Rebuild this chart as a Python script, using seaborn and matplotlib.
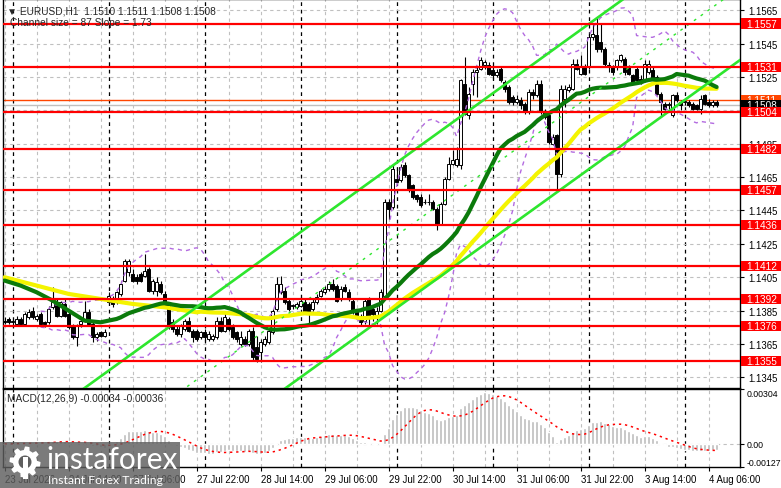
import numpy as np
import pandas as pd
import seaborn as sns
import matplotlib.pyplot as plt
from matplotlib import transforms
from matplotlib.patches import Rectangle, Circle, Polygon

sns.set_style("white")
plt.rcParams['font.family'] = ['Liberation Sans', 'DejaVu Sans']

# EURUSD H1 candles (bar 0 = 23 Jul 22:00)
opens = [1.1379, 1.1380, 1.1378, 1.1377, 1.1380, 1.1377, 1.1381, 1.1385, 1.1380, 1.1383,
         1.1378, 1.1378, 1.1387, 1.1390, 1.1382, 1.1389, 1.1383, 1.1376, 1.1369, 1.1377,
         1.1379, 1.1384, 1.1377, 1.1369, 1.1372, 1.1370, 1.1390, 1.1392, 1.1390, 1.1395,
         1.1403, 1.1408, 1.1407, 1.1405, 1.1407, 1.1406, 1.1410, 1.1397, 1.1397, 1.1401,
         1.1395, 1.1389, 1.1378, 1.1374, 1.1371, 1.1374, 1.1379, 1.1373, 1.1373, 1.1369,
         1.1372, 1.1368, 1.1368, 1.1369, 1.1379, 1.1373, 1.1380, 1.1375, 1.1372, 1.1365,
         1.1368, 1.1365, 1.1373, 1.1363, 1.1360, 1.1365, 1.1366, 1.1372, 1.1386, 1.1396,
         1.1397, 1.1391, 1.1388, 1.1387, 1.1388, 1.1390, 1.1389, 1.1386, 1.1390, 1.1394,
         1.1396, 1.1398, 1.1401, 1.1400, 1.1392, 1.1399, 1.1396, 1.1391, 1.1385, 1.1382,
         1.1379, 1.1392, 1.1386, 1.1382, 1.1385, 1.1394, 1.1450, 1.1447, 1.1464, 1.1463,
         1.1472, 1.1466, 1.1460, 1.1454, 1.1453, 1.1450, 1.1450, 1.1450, 1.1446, 1.1437,
         1.1449, 1.1464, 1.1473, 1.1472, 1.1472, 1.1521, 1.1502, 1.1521, 1.1528, 1.1530,
         1.1532, 1.1532, 1.1529, 1.1526, 1.1530, 1.1522, 1.1519, 1.1513, 1.1510, 1.1511,
         1.1509, 1.1504, 1.1516, 1.1514, 1.1521, 1.1504, 1.1502, 1.1485, 1.1490, 1.1467,
         1.1512, 1.1517, 1.1518, 1.1533, 1.1527, 1.1531, 1.1531, 1.1549, 1.1550, 1.1546,
         1.1542, 1.1532, 1.1531, 1.1531, 1.1535, 1.1536, 1.1531, 1.1526, 1.1530, 1.1524,
         1.1523, 1.1528, 1.1529, 1.1525, 1.1515, 1.1509, 1.1508, 1.1502, 1.1514, 1.1510,
         1.1510, 1.1510, 1.1509, 1.1508, 1.1506, 1.1514, 1.1510, 1.1508, 1.1510]
highs = [1.1381, 1.1381, 1.1380, 1.1382, 1.1381, 1.1384, 1.1386, 1.1387, 1.1383, 1.1384,
         1.1379, 1.1388, 1.1399, 1.1392, 1.1391, 1.1392, 1.1385, 1.1377, 1.1377, 1.1380,
         1.1391, 1.1386, 1.1378, 1.1372, 1.1373, 1.1374, 1.1396, 1.1394, 1.1397, 1.1403,
         1.1416, 1.1416, 1.1410, 1.1407, 1.1408, 1.1419, 1.1411, 1.1404, 1.1405, 1.1403,
         1.1397, 1.1390, 1.1380, 1.1376, 1.1377, 1.1380, 1.1381, 1.1374, 1.1374, 1.1373,
         1.1374, 1.1373, 1.1371, 1.1381, 1.1381, 1.1384, 1.1381, 1.1377, 1.1373, 1.1373,
         1.1370, 1.1374, 1.1375, 1.1370, 1.1368, 1.1370, 1.1374, 1.1386, 1.1405, 1.1406,
         1.1399, 1.1392, 1.1389, 1.1390, 1.1393, 1.1392, 1.1390, 1.1392, 1.1395, 1.1398,
         1.1400, 1.1403, 1.1404, 1.1401, 1.1400, 1.1401, 1.1398, 1.1392, 1.1386, 1.1383,
         1.1392, 1.1393, 1.1388, 1.1387, 1.1398, 1.1452, 1.1452, 1.1472, 1.1471, 1.1473,
         1.1474, 1.1467, 1.1461, 1.1455, 1.1455, 1.1452, 1.1455, 1.1451, 1.1447, 1.1450,
         1.1465, 1.1477, 1.1481, 1.1483, 1.1524, 1.1537, 1.1519, 1.1530, 1.1531, 1.1537,
         1.1535, 1.1534, 1.1531, 1.1530, 1.1531, 1.1523, 1.1520, 1.1514, 1.1514, 1.1513,
         1.1510, 1.1518, 1.1518, 1.1523, 1.1523, 1.1506, 1.1503, 1.1491, 1.1491, 1.1520,
         1.1520, 1.1521, 1.1536, 1.1536, 1.1538, 1.1533, 1.1551, 1.1557, 1.1560, 1.1557,
         1.1543, 1.1534, 1.1532, 1.1536, 1.1539, 1.1537, 1.1532, 1.1527, 1.1531, 1.1526,
         1.1535, 1.1535, 1.1531, 1.1526, 1.1516, 1.1510, 1.1510, 1.1515, 1.1516, 1.1511,
         1.1512, 1.1511, 1.1510, 1.1509, 1.1514, 1.1515, 1.1512, 1.1511, 1.1511]
lows = [1.1377, 1.1377, 1.1376, 1.1376, 1.1376, 1.1376, 1.1380, 1.1380, 1.1379, 1.1376,
        1.1375, 1.1377, 1.1386, 1.1381, 1.1381, 1.1381, 1.1374, 1.1368, 1.1364, 1.1375,
        1.1378, 1.1376, 1.1366, 1.1367, 1.1369, 1.1369, 1.1389, 1.1387, 1.1389, 1.1394,
        1.1402, 1.1406, 1.1402, 1.1401, 1.1402, 1.1405, 1.1396, 1.1395, 1.1394, 1.1395,
        1.1387, 1.1374, 1.1372, 1.1370, 1.1369, 1.1373, 1.1372, 1.1366, 1.1367, 1.1368,
        1.1367, 1.1367, 1.1367, 1.1368, 1.1372, 1.1372, 1.1373, 1.1368, 1.1366, 1.1364,
        1.1364, 1.1364, 1.1355, 1.1354, 1.1354, 1.1364, 1.1365, 1.1371, 1.1385, 1.1395,
        1.1389, 1.1385, 1.1386, 1.1386, 1.1387, 1.1384, 1.1377, 1.1385, 1.1389, 1.1393,
        1.1395, 1.1397, 1.1397, 1.1390, 1.1391, 1.1396, 1.1391, 1.1383, 1.1380, 1.1376,
        1.1377, 1.1376, 1.1379, 1.1377, 1.1384, 1.1392, 1.1440, 1.1446, 1.1461, 1.1462,
        1.1465, 1.1456, 1.1452, 1.1450, 1.1447, 1.1449, 1.1448, 1.1445, 1.1433, 1.1436,
        1.1448, 1.1463, 1.1472, 1.1471, 1.1470, 1.1502, 1.1500, 1.1514, 1.1513, 1.1529,
        1.1530, 1.1526, 1.1524, 1.1525, 1.1522, 1.1516, 1.1509, 1.1508, 1.1509, 1.1506,
        1.1503, 1.1503, 1.1512, 1.1513, 1.1503, 1.1500, 1.1485, 1.1484, 1.1456, 1.1465,
        1.1507, 1.1516, 1.1517, 1.1529, 1.1526, 1.1526, 1.1530, 1.1547, 1.1540, 1.1540,
        1.1531, 1.1528, 1.1526, 1.1529, 1.1534, 1.1526, 1.1526, 1.1521, 1.1522, 1.1521,
        1.1522, 1.1527, 1.1523, 1.1514, 1.1501, 1.1505, 1.1506, 1.1501, 1.1510, 1.1505,
        1.1508, 1.1507, 1.1505, 1.1505, 1.1503, 1.1508, 1.1507, 1.1507, 1.1507]
closes = [1.1378, 1.1378, 1.1379, 1.1380, 1.1377, 1.1383, 1.1384, 1.1381, 1.1382, 1.1377,
          1.1377, 1.1386, 1.1390, 1.1382, 1.1390, 1.1382, 1.1375, 1.1369, 1.1376, 1.1379,
          1.1384, 1.1377, 1.1369, 1.1371, 1.1370, 1.1372, 1.1394, 1.1389, 1.1396, 1.1401,
          1.1415, 1.1415, 1.1403, 1.1403, 1.1403, 1.1409, 1.1397, 1.1403, 1.1402, 1.1396,
          1.1388, 1.1375, 1.1374, 1.1371, 1.1376, 1.1379, 1.1373, 1.1369, 1.1368, 1.1372,
          1.1369, 1.1371, 1.1370, 1.1379, 1.1373, 1.1381, 1.1374, 1.1369, 1.1368, 1.1369,
          1.1365, 1.1373, 1.1357, 1.1356, 1.1366, 1.1368, 1.1373, 1.1385, 1.1401, 1.1401,
          1.1390, 1.1386, 1.1388, 1.1389, 1.1391, 1.1385, 1.1384, 1.1390, 1.1393, 1.1397,
          1.1398, 1.1401, 1.1398, 1.1391, 1.1398, 1.1397, 1.1392, 1.1384, 1.1381, 1.1378,
          1.1391, 1.1382, 1.1383, 1.1385, 1.1396, 1.1450, 1.1446, 1.1470, 1.1462, 1.1471,
          1.1466, 1.1457, 1.1453, 1.1452, 1.1448, 1.1450, 1.1450, 1.1446, 1.1436, 1.1449,
          1.1464, 1.1473, 1.1475, 1.1476, 1.1523, 1.1503, 1.1515, 1.1528, 1.1529, 1.1535,
          1.1534, 1.1527, 1.1526, 1.1528, 1.1523, 1.1518, 1.1510, 1.1510, 1.1512, 1.1508,
          1.1504, 1.1516, 1.1514, 1.1521, 1.1504, 1.1501, 1.1486, 1.1489, 1.1467, 1.1518,
          1.1518, 1.1519, 1.1533, 1.1530, 1.1531, 1.1527, 1.1549, 1.1551, 1.1542, 1.1542,
          1.1533, 1.1531, 1.1528, 1.1535, 1.1538, 1.1528, 1.1527, 1.1522, 1.1523, 1.1522,
          1.1533, 1.1533, 1.1524, 1.1515, 1.1510, 1.1506, 1.1509, 1.1514, 1.1511, 1.1508,
          1.1510, 1.1508, 1.1506, 1.1506, 1.1512, 1.1509, 1.1508, 1.1510, 1.1508]

# moving averages before their window fills
fast_head_bars = [0, 4, 8, 12, 16, 20, 24, 28]
fast_head_vals = [1.1403, 1.1400, 1.1396, 1.1391, 1.1385, 1.1379, 1.1378, 1.1380]
slow_head_bars = [0, 8, 16, 24, 32, 40, 48]
slow_head_vals = [1.1405, 1.1400, 1.1395, 1.1392, 1.1389, 1.1387, 1.1384]

levels = [1.1557, 1.1531, 1.1504, 1.1482, 1.1457, 1.1436, 1.1412, 1.1392, 1.1376, 1.1355]
ask_price = 1.1511
bid_price = 1.1508

# regression channel: lower edge anchor, slope per bar, width
chan_bar = 70.5
chan_price = 1.1339
chan_slope = 0.000173
chan_size = 0.0087

price_ticks = [1.1345, 1.1365, 1.1385, 1.1405, 1.1425, 1.1445, 1.1465, 1.1485, 1.1505, 1.1525, 1.1545, 1.1565]
time_ticks = [0, 16, 32, 48, 64, 80, 96, 112, 128, 144, 160, 176]
time_labels = ['23 Jul 2026', '24 Jul 14:00', '27 Jul 06:00', '27 Jul 22:00', '28 Jul 14:00',
               '29 Jul 06:00', '29 Jul 22:00', '30 Jul 14:00', '31 Jul 06:00', '31 Jul 22:00',
               '3 Aug 14:00', '4 Aug 06:00']
day_breaks = [2, 26, 50, 74, 98, 122, 146, 170]
macd_ticks = [-0.00127, 0.0, 0.00304]
macd_labels = ['-0.00127', '0.00', '0.00304']

df = pd.DataFrame({'bar': np.arange(len(closes)), 'open': opens, 'high': highs,
                   'low': lows, 'close': closes})
fast = df['close'].rolling(30).mean()
slow = df['close'].rolling(50).mean()
bb_mid = df['close'].rolling(20, min_periods=10).mean()
bb_std = df['close'].rolling(20, min_periods=10).std(ddof=0)
ema12 = df['close'].ewm(span=12, adjust=False).mean()
ema26 = df['close'].ewm(span=26, adjust=False).mean()
macd = ema12 - ema26
signal = macd.rolling(9, min_periods=1).mean()

W, H = 781, 489
fig = plt.figure(figsize=(W / 100, H / 100), dpi=100)
ax = fig.add_axes([3 / W, 1 - 388.5 / H, 737 / W, 388.5 / H])
ax2 = fig.add_axes([3 / W, 1 - 467.7 / H, 737 / W, 77.7 / H], sharex=ax)

xmin, xmax = -0.4, 183.85
ax.set_xlim(xmin, xmax)
ax.set_ylim(1.133894, 1.157168)
ax2.set_ylim(-0.00127, 0.00304)

grid_kw = dict(color='#c0c0c0', lw=0.8, linestyle=(0, (3, 3)), zorder=1)
sep_kw = dict(color='black', lw=0.9, linestyle=(0, (3, 3)), zorder=1)
for a in (ax, ax2):
    for b in range(0, 184, 8):
        a.axvline(b, **grid_kw)
    for b in day_breaks:
        a.axvline(b, **sep_kw)
for p in price_ticks:
    ax.axhline(p, **grid_kw)
ax2.axhline(0, **grid_kw)

# candles
up = df['close'] >= df['open']
body_lo = np.minimum(df['open'], df['close'])
body_h = np.maximum((df['close'] - df['open']).abs(), 0.00003)
ax.vlines(df['bar'], df['low'], df['high'], color='black', lw=0.8, zorder=3)
ax.bar(df['bar'][up], body_h[up], bottom=body_lo[up], width=0.62, color='white',
       edgecolor='black', lw=0.7, zorder=4)
ax.bar(df['bar'][~up], body_h[~up], bottom=body_lo[~up], width=0.62, color='black',
       edgecolor='black', lw=0.7, zorder=4)

ax.axhline(bid_price, color='#c0c0c0', lw=1, zorder=2)
ax.axhline(ask_price, color='#ff4500', lw=1, zorder=2)

# Bollinger-style envelope
band_style = dict(color='#b36be0', lw=1, linestyle=(0, (3, 3)), zorder=5)
sns.lineplot(x=df['bar'], y=bb_mid + 2 * bb_std, ax=ax, **band_style)
sns.lineplot(x=df['bar'], y=bb_mid - 2 * bb_std, ax=ax, **band_style)

# moving averages
slow_x = slow_head_bars + list(df['bar'][49:])
slow_y = slow_head_vals + list(slow[49:])
fast_x = fast_head_bars + list(df['bar'][29:])
fast_y = fast_head_vals + list(fast[29:])
sns.lineplot(x=slow_x, y=slow_y, ax=ax, color='#f4f400', lw=3, zorder=5)
sns.lineplot(x=fast_x, y=fast_y, ax=ax, color='#0b7a0b', lw=3, zorder=5)

# channel
cx = np.array([xmin - 1, xmax + 1])
low_edge = chan_price + chan_slope * (cx - chan_bar)
sns.lineplot(x=cx, y=low_edge, ax=ax, color='#2ee62e', lw=1.9, zorder=6)
sns.lineplot(x=cx, y=low_edge + chan_size, ax=ax, color='#2ee62e', lw=1.9, zorder=6)
sns.lineplot(x=cx, y=low_edge + chan_size / 2, ax=ax, color='#2ee62e', lw=1,
             linestyle=(0, (2, 4)), zorder=6)

for lv in levels:
    ax.axhline(lv, color='#ff0000', lw=1.6, zorder=6)

# right side price tags
tr = transforms.blended_transform_factory(ax.transAxes, ax.transData)


def price_tag(y, text, fc, z):
    ax.add_patch(Rectangle((1.0015, y - 0.0003), 0.06, 0.0006, transform=tr, fc=fc,
                           ec='none', clip_on=False, zorder=z))
    ax.text(1.0081, y, text, transform=tr, color='white', fontsize=7.2, va='center',
            ha='left', clip_on=False, zorder=z + 0.1)


price_tag(ask_price, f'{ask_price:.4f}', '#ff4500', 10)
price_tag(bid_price, f'{bid_price:.4f}', 'black', 11)
for k, lv in enumerate(levels):
    price_tag(lv, f'{lv:.4f}', '#ff0000', 12 + k)

# MACD panel
ax2.bar(df['bar'], macd, width=0.7, color='#bdbdbd', zorder=3)
sns.lineplot(x=df['bar'], y=signal, ax=ax2, color='#ff0000', lw=1.1,
             linestyle=(0, (1.5, 2.5)), zorder=4)

for a in (ax, ax2):
    a.set_xlabel('')
    a.set_ylabel('')
    a.yaxis.tick_right()
    for s in a.spines.values():
        s.set_color('black')
        s.set_linewidth(1)
    a.tick_params(axis='y', which='both', right=True, left=False, length=3, pad=3,
                  labelsize=6.9, colors='black')

ax.set_yticks(price_ticks)
ax.set_yticklabels([f'{p:.4f}' for p in price_ticks])
ax.tick_params(axis='x', bottom=False, labelbottom=False)
ax2.set_yticks(macd_ticks)
ax2.set_yticklabels(macd_labels)
ax2.tick_params(axis='y', pad=2, labelsize=6.3)
ax2.get_yticklabels()[0].set_va('bottom')
ax2.get_yticklabels()[2].set_va('top')
ax2.set_xticks(time_ticks)
ax2.set_xticklabels(time_labels)
ax2.tick_params(axis='x', bottom=True, length=3, pad=2, labelsize=6.9, colors='black')
for lab in ax2.get_xticklabels():
    lab.set_ha('left')

# overlay in pixel coordinates for captions and logo
ov = fig.add_axes([0, 0, 1, 1], zorder=20)
ov.set_xlim(0, W)
ov.set_ylim(H, 0)
ov.axis('off')
ov.patch.set_alpha(0)
ov.text(7, 11, '\u25bc EURUSD,H1  1.1510 1.1511 1.1508 1.1508', fontsize=7.3, va='center',
        family=['Liberation Sans', 'DejaVu Sans'])
ov.text(10, 23.5, 'Channel size = 87 Slope = 1.73', fontsize=7.3, va='center')
ov.text(7, 399, 'MACD(12,26,9) -0.00034 -0.00036', fontsize=7.3, va='center')

ov.add_patch(Rectangle((0, 443), 180, 46, fc='#5e5e5e', ec='none', alpha=0.82))
ang = np.linspace(0, 2 * np.pi, 65)
rad = np.where((np.arange(65) // 4) % 2 == 0, 15.5, 12)
ov.add_patch(Polygon(np.c_[25 + rad * np.cos(ang), 463 + rad * np.sin(ang)], closed=True,
                     fc='white', ec='none'))
ov.add_patch(Circle((25, 463), 6.5, fc='#5e5e5e', ec='none'))
ov.add_patch(Rectangle((22.5, 458), 5, 22, fc='white', ec='none'))
ov.text(46, 469, 'instaforex', color='white', fontsize=21.5, family='Lato',
        va='baseline')
ov.text(48, 480, 'Instant Forex Trading', color='white', fontsize=8.8, va='center',
        family='Lato')

fig.savefig('out.png', dpi=100)
